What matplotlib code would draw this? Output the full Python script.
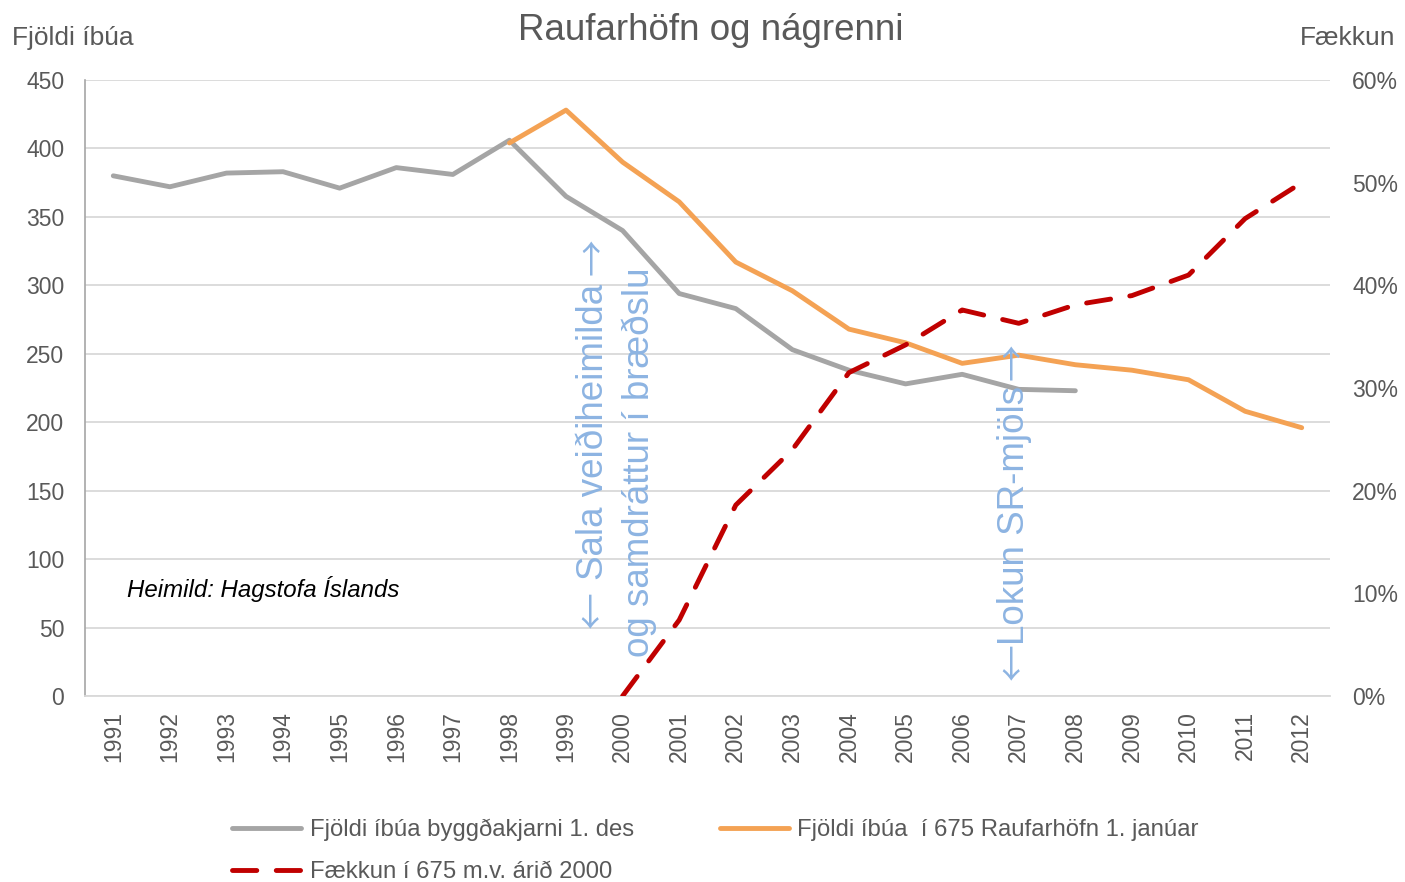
import matplotlib
matplotlib.use("Agg")
import matplotlib.pyplot as plt
from matplotlib.ticker import FuncFormatter
import numpy as np

plt.rcParams['font.family'] = ['Liberation Sans', 'DejaVu Sans']

years = [str(y) for y in range(1991, 2013)]
gray_years = list(range(1991, 2009))
gray_vals = [380, 372, 382, 383, 371, 386, 381, 406, 365, 340, 294, 283, 253, 238, 228, 235, 224, 223]
orange_years = list(range(1998, 2013))
orange_vals = [404, 428, 390, 361, 317, 296, 268, 258, 243, 249, 242, 238, 231, 208, 196]
red_years = list(range(2000, 2013))
red_vals = [0.0, 0.074, 0.186, 0.240, 0.315, 0.342, 0.376, 0.363, 0.381, 0.390, 0.410, 0.465, 0.500]

label_gray = "Fjöldi íbúa byggðakjarni 1. des"
label_orange = "Fjöldi íbúa  í 675 Raufarhöfn 1. janúar"
label_red = "Fækkun í 675 m.v. árið 2000"

TXT = '#595959'
C_GRAY = '#A5A5A5'
C_ORANGE = '#F4A254'
C_RED = '#C00000'
C_BLUE = '#8DB4E2'
ARROW_FONT = ['Noto Sans CJK JP', 'DejaVu Sans']

fig = plt.figure(figsize=(14.05, 8.82), dpi=100)
ax = fig.add_axes([85/1405, 1-696/882, 1245/1405, 616/882])
ax2 = ax.twinx()

def pos(yrs):
    return [y - 1991 for y in yrs]

l1, = ax.plot(pos(gray_years), gray_vals, color=C_GRAY, lw=3.5, solid_capstyle='round', label=label_gray, zorder=3)
l2, = ax.plot(pos(orange_years), orange_vals, color=C_ORANGE, lw=3.5, solid_capstyle='round', label=label_orange, zorder=3)
l3, = ax2.plot(pos(red_years), red_vals, color=C_RED, lw=3.5, dashes=(5, 4), dash_capstyle='round', label=label_red, zorder=3)

ax.set_xlim(-0.5, 21.5)
ax.set_ylim(0, 450)
ax2.set_ylim(0, 0.6)
ax.set_yticks(np.arange(0, 451, 50))
ax2.set_yticks(np.arange(0, 0.61, 0.1))
ax2.yaxis.set_major_formatter(FuncFormatter(lambda v, p: f"{v*100:.0f}%"))
ax.set_xticks(range(len(years)))
ax.set_xticklabels(years, rotation=90)

ax.grid(axis='y', color='#D9D9D9', lw=1.3)
ax.set_axisbelow(True)
for a in (ax, ax2):
    for s in ('top', 'right', 'left', 'bottom'):
        a.spines[s].set_visible(False)
ax.spines['left'].set_visible(True)
ax.spines['left'].set_color('#A6A6A6')
ax.spines['left'].set_linewidth(1.2)
ax.spines['bottom'].set_visible(True)
ax.spines['bottom'].set_color('#D9D9D9')
ax.spines['bottom'].set_linewidth(1.3)

ax.tick_params(axis='y', length=0, pad=15, labelsize=16.5, labelcolor=TXT)
ax.tick_params(axis='x', length=0, pad=11, labelsize=16.5, labelcolor=TXT)
ax2.tick_params(axis='y', length=0, pad=16, labelsize=16.5, labelcolor=TXT)

fig.text(711/1405, 1-27/882, "Raufarhöfn og nágrenni", ha='center', va='center_baseline', fontsize=26.5, color=TXT)
fig.text(12/1405, 1-38/882, "Fjöldi íbúa", ha='left', va='center', fontsize=19, color=TXT)
fig.text(1395/1405, 1-38/882, "Fækkun", ha='right', va='center', fontsize=19, color=TXT)

ax.text(2.64, 78, "Heimild: Hagstofa Íslands", ha='center', va='center', fontsize=17.3, style='italic', color='black')

ann_kw = dict(rotation=90, ha='center', va='center', fontsize=26.5, color=C_BLUE, zorder=5)
# first annotation: arrows and text
ax.text(8.49, 63, "←", family=ARROW_FONT, **ann_kw)
ax.text(8.49, 193, "Sala veiðiheimilda", **ann_kw)
ax.text(8.49, 321, "→", family=ARROW_FONT, **ann_kw)
ax.text(9.29, 171, "og samdráttur í bræðslu", **ann_kw)
# second annotation
ax.text(15.92, 25, "←", family=ARROW_FONT, **ann_kw)
ax.text(15.92, 132, "Lokun SR-mjöls", **ann_kw)
ax.text(15.92, 244, "→", family=ARROW_FONT, **ann_kw)

leg = fig.legend([l1, l3, l2], [label_gray, label_red, label_orange], ncol=2,
                 loc='upper left', bbox_to_anchor=(232/1405, 1-819/882), frameon=False,
                 fontsize=17.2, labelcolor=TXT, handlelength=2.9, handletextpad=0.35,
                 columnspacing=3.6, labelspacing=0.84, borderaxespad=0, borderpad=0)

fig.savefig("out.png", dpi=100)
